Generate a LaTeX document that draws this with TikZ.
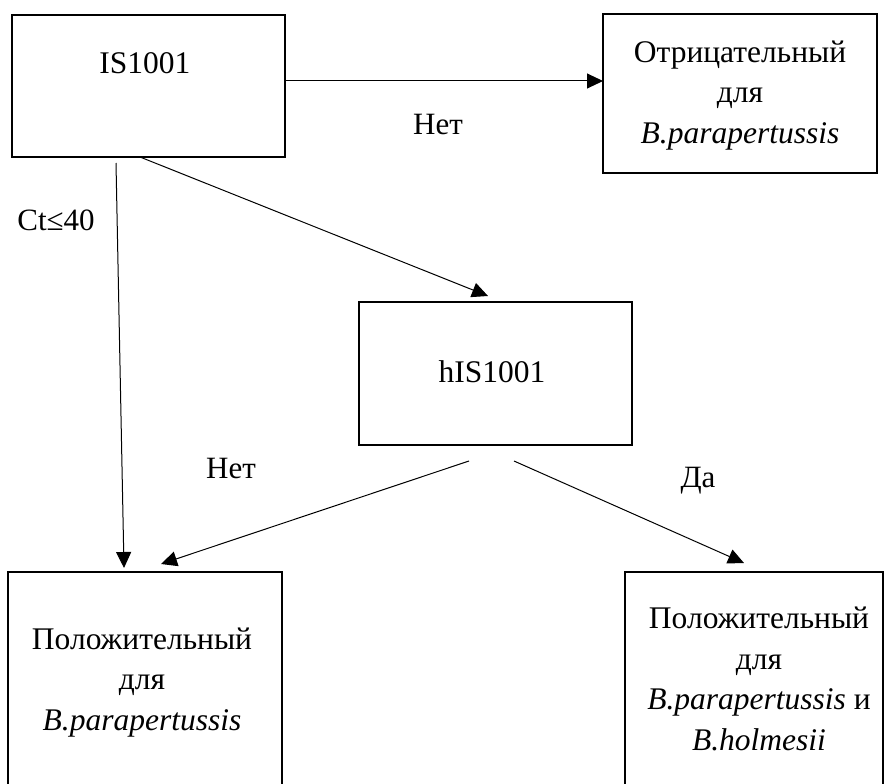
\documentclass[tikz,border=0pt]{standalone}
\usepackage{fontspec}
\setmainfont{Liberation Serif}
\usetikzlibrary{arrows.meta}
\begin{document}
\begin{tikzpicture}[x=1pt,y=-1pt,
  box/.style={draw, line width=2pt, inner sep=0pt},
  txt/.style={font=\fontsize{31.5}{40.5}\selectfont, align=center, inner sep=0pt, anchor=base},
  lbl/.style={font=\fontsize{31}{40.5}\selectfont, inner sep=0pt, anchor=base},
  arr/.style={line width=1pt, -{Triangle[length=16pt,width=15pt]}}]
\useasboundingbox (0,0) rectangle (884,784);
\clip (0,0) rectangle (884,784);
% boxes
\node[box, minimum width=273pt, minimum height=142pt] (A) at (148.5,86) {};
\node[box, minimum width=274pt, minimum height=159pt] (B) at (740,93.5) {};
\node[box, minimum width=273pt, minimum height=143pt] (C) at (495.5,373.5) {};
\node[box, minimum width=274pt, minimum height=238pt] (D) at (145,691) {};
\node[box, minimum width=258pt, minimum height=238pt] (E) at (754,691) {};
% texts (anchor = baseline of the last line)
\node[txt] (tA) at (145,74) {IS1001};
\node[txt] (tB) at (740,143) {Отрицательный\\для\\\textit{B.parapertussis}};
\node[txt] (tC) at (492,382) {hIS1001};
\node[txt] (tD) at (142,730) {Положительный\\для\\\textit{B.parapertussis}};
\node[txt] (tE) at (759,750) {Положительный\\для\\\textit{B.parapertussis} и\\\textit{B.holmesii}};
% labels
\node[lbl] (l1) at (438,135) {Нет};
\node[lbl] (l2) at (56,230) {Ct≤40};
\node[lbl] (l3) at (231,478) {Нет};
\node[lbl] (l4) at (698,487) {Да};
% connector ends
\coordinate (a3) at (286,81); \coordinate (b1) at (603,81);
\coordinate (a1) at (116,163); \coordinate (d1) at (124,568);
\coordinate (a2) at (140,157); \coordinate (c1) at (488,296);
\coordinate (c2) at (469,461); \coordinate (d2) at (161,564);
\coordinate (c3) at (514,461); \coordinate (e1) at (744,563);
% connectors
\draw[arr] (a3) -- (b1);
\draw[arr] (a1) -- (d1);
\draw[arr] (a2) -- (c1);
\draw[arr] (c2) -- (d2);
\draw[arr] (c3) -- (e1);
\end{tikzpicture}
\end{document}
